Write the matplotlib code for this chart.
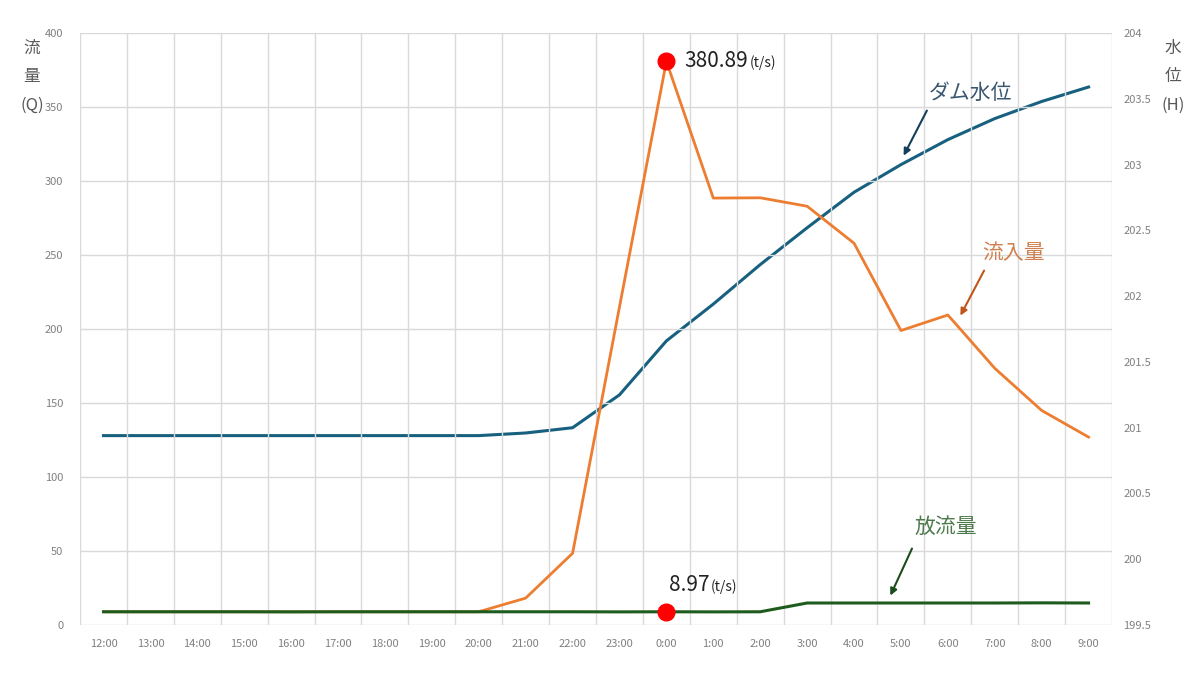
import numpy as np
import matplotlib
matplotlib.use("Agg")
import matplotlib.pyplot as plt

plt.rcParams['font.family'] = ['Noto Sans CJK JP', 'DejaVu Sans']

# hourly categories
hours = ["12:00", "13:00", "14:00", "15:00", "16:00", "17:00", "18:00", "19:00",
         "20:00", "21:00", "22:00", "23:00", "0:00", "1:00", "2:00", "3:00",
         "4:00", "5:00", "6:00", "7:00", "8:00", "9:00"]

# inflow (t/s), left axis
inflow = [8.97, 8.97, 8.97, 8.97, 8.97, 8.97, 8.97, 8.97,
          8.97, 18.2, 48.5, 215, 380.89, 288.5, 288.7, 283,
          258, 199, 209.5, 173.5, 145, 127]
# outflow (t/s), left axis
outflow = [8.97, 8.97, 8.97, 8.97, 8.9, 8.97, 8.97, 8.97,
           8.97, 8.97, 8.97, 8.9, 8.97, 8.9, 8.97, 14.9,
           14.9, 14.9, 14.9, 14.9, 15.0, 14.9]
# dam water level (H), right axis
level = [200.94, 200.94, 200.94, 200.94, 200.94, 200.94, 200.94, 200.94,
         200.94, 200.96, 201.0, 201.25, 201.66, 201.94, 202.24, 202.52,
         202.79, 203.0, 203.19, 203.35, 203.48, 203.59]

c_in = '#ED7D31'
c_out = '#1E5C1E'
c_lv = '#17607F'
grid_c = '#D9D9D9'
tick_c = '#808080'

x = np.arange(len(hours))

fig = plt.figure(figsize=(12, 6.75), dpi=100)
ax = fig.add_axes([0.0667, 0.074, 0.86, 0.877])
ax2 = ax.twinx()

ax.set_xlim(-0.5, len(hours) - 0.5)
ax.set_ylim(0, 400)
ax2.set_ylim(199.5, 204)

ax.set_xticks(x)
ax.set_xticklabels(hours)
ax.set_xticks(np.arange(-0.5, len(hours)), minor=True)
ax.set_yticks(np.arange(0, 401, 50))
ax2.set_yticks(np.arange(199.5, 204.01, 0.5))
ax2.set_yticklabels(["199.5", "200", "200.5", "201", "201.5", "202", "202.5", "203", "203.5", "204"])

ax.grid(True, which='minor', axis='x', color=grid_c, lw=1)
ax.grid(True, which='major', axis='y', color=grid_c, lw=1)
ax.set_axisbelow(True)
for a in (ax, ax2):
    for s in a.spines.values():
        s.set_visible(False)
    a.tick_params(length=0, labelsize=8, colors=tick_c, which='both')
ax.tick_params(axis='x', pad=10)
ax.tick_params(axis='y', pad=12)
ax2.tick_params(axis='y', pad=8)

ax.plot(x, inflow, color=c_in, lw=2, zorder=3)
ax.plot(x, outflow, color=c_out, lw=2.2, zorder=4)
ax2.plot(x, level, color=c_lv, lw=2.2, zorder=3)
ax.set_zorder(ax2.get_zorder() + 1)
ax.patch.set_visible(False)

# peak markers
pk = inflow.index(max(inflow))
ax.plot([pk], [inflow[pk]], 'o', color='#FF0000', ms=12, zorder=6, clip_on=False)
ax.plot([pk], [outflow[pk]], 'o', color='#FF0000', ms=12, zorder=6, clip_on=False)
t1 = ax.text(pk + 0.38, inflow[pk], "380.89", fontsize=15, color='#222222', va='center')
ax.annotate("(t/s)", xy=(1, 0.45), xycoords=t1, xytext=(1, 0), textcoords='offset points',
            fontsize=10, color='#222222', va='center')
t2 = ax.text(pk + 0.06, 27, "8.97", fontsize=15, color='#222222', va='center')
ax.annotate("(t/s)", xy=(1, 0.45), xycoords=t2, xytext=(1, 0), textcoords='offset points',
            fontsize=10, color='#222222', va='center')

# series labels with arrows
ax.text(18.48, 359.5, "ダム水位", fontsize=15, color='#3A5670', ha='center', va='center')
ax.annotate('', xy=(17.03, 315.5), xytext=(17.58, 349.3),
            arrowprops=dict(arrowstyle='-|>', color='#143F5A', lw=1.5, mutation_scale=10))
ax.text(19.41, 251.4, "流入量", fontsize=15, color='#D0804F', ha='center', va='center')
ax.annotate('', xy=(18.24, 207.4), xytext=(18.80, 241.2),
            arrowprops=dict(arrowstyle='-|>', color='#C0561A', lw=1.5, mutation_scale=10))
ax.text(17.96, 66.2, "放流量", fontsize=15, color='#4C7A4C', ha='center', va='center')
ax.annotate('', xy=(16.75, 18.2), xytext=(17.26, 53.4),
            arrowprops=dict(arrowstyle='-|>', color='#1B4D1B', lw=1.5, mutation_scale=10))

# axis titles (stacked vertically)
fig.text(32 / 1200, 1 - 48 / 675, "流", fontsize=12, color='#595959', ha='center', va='center')
fig.text(32 / 1200, 1 - 77 / 675, "量", fontsize=12, color='#595959', ha='center', va='center')
fig.text(32 / 1200, 1 - 105 / 675, "(Q)", fontsize=12, color='#595959', ha='center', va='center')
fig.text(1173 / 1200, 1 - 48 / 675, "水", fontsize=12, color='#595959', ha='center', va='center')
fig.text(1173 / 1200, 1 - 77 / 675, "位", fontsize=12, color='#595959', ha='center', va='center')
fig.text(1173 / 1200, 1 - 105 / 675, "(H)", fontsize=12, color='#595959', ha='center', va='center')

fig.savefig("out.png", dpi=100)
